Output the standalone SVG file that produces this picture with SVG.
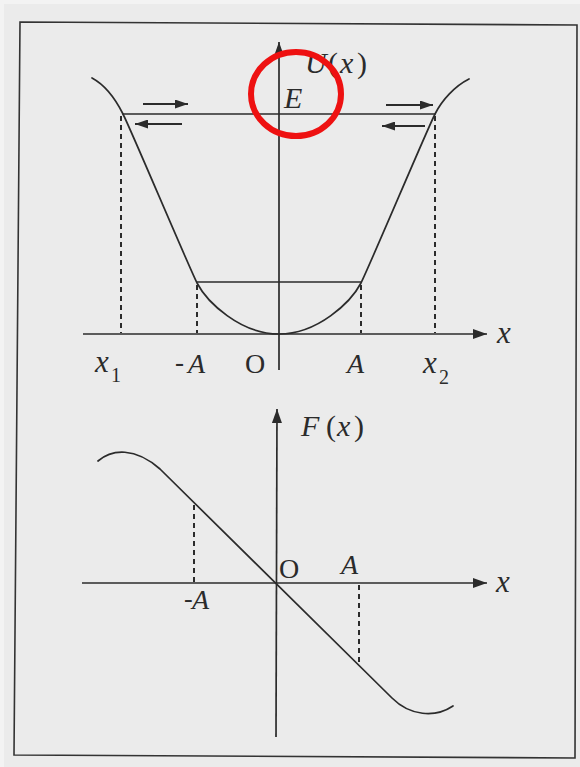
<svg xmlns="http://www.w3.org/2000/svg" width="580" height="767" viewBox="0 0 580 767">
<defs>
<style>
.ln{fill:none;stroke:#2b2b2b;stroke-width:1.7;stroke-linecap:round}
.ax{fill:none;stroke:#2b2b2b;stroke-width:1.7}
.ds{fill:none;stroke:#2b2b2b;stroke-width:2;stroke-dasharray:5,4}
.ar{fill:none;stroke:#2b2b2b;stroke-width:2}
text{font-family:"Liberation Serif","Times New Roman",serif;fill:#2b2b2b}
.it{font-style:italic}
</style>
<marker id="ah" viewBox="0 0 14 10" refX="14" refY="5" markerWidth="14" markerHeight="10" markerUnits="userSpaceOnUse" orient="auto">
<path d="M0,0 L14,5 L0,10 z" fill="#2b2b2b"/>
</marker>
<marker id="sa" viewBox="0 0 13 9" refX="13" refY="4.5" markerWidth="13" markerHeight="9" markerUnits="userSpaceOnUse" orient="auto">
<path d="M0,0 L13,4.5 L0,9 z" fill="#2b2b2b"/>
</marker>
</defs>
<rect x="0" y="0" width="580" height="767" fill="#f3f3f3"/>
<rect x="4" y="4" width="576" height="763" fill="#ebebeb"/>
<g id="frame">
<path d="M20,22 L577,25 L575,758 L14,755 Z" fill="none" stroke="#333" stroke-width="1.6"/>
</g>
<g id="upper-plot">
<g id="upper-axes">
<line class="ax" x1="83" y1="334" x2="487" y2="334" marker-end="url(#ah)"/>
<line class="ax" x1="279" y1="370" x2="279" y2="42" marker-end="url(#ah)"/>
</g>
<g id="potential-curve">
<path class="ln" d="M92,78 C105,85 116,100 123,114 C132,132 185,258 197,283 C207,302 240,334 279,334 C318,334 351,302 361,283 C373,258 426,132 435,114 C442,100 455,86 469,79"/>
</g>
<g id="energy-levels">
<line class="ln" x1="123" y1="114" x2="435" y2="114"/>
<line class="ln" x1="197" y1="282" x2="361" y2="282"/>
</g>
<g id="upper-dashes">
<line class="ds" x1="121" y1="116" x2="121" y2="333"/>
<line class="ds" x1="197" y1="285" x2="197" y2="333"/>
<line class="ds" x1="361" y1="285" x2="361" y2="333"/>
<line class="ds" x1="435" y1="116" x2="435" y2="333"/>
</g>
<g id="motion-arrows">
<line class="ar" x1="143" y1="104" x2="188" y2="104" marker-end="url(#sa)"/>
<line class="ar" x1="182" y1="124" x2="135" y2="124" marker-end="url(#sa)"/>
<line class="ar" x1="386" y1="105" x2="433" y2="105" marker-end="url(#sa)"/>
<line class="ar" x1="425" y1="126" x2="382" y2="126" marker-end="url(#sa)"/>
</g>
<g id="upper-labels">
<text x="305" y="73" font-size="30"><tspan class="it">U</tspan><tspan x="328">(</tspan><tspan class="it" x="340">x</tspan><tspan x="357">)</tspan></text>
<text class="it" x="284" y="108" font-size="30">E</text>
<text class="it" x="497" y="343" font-size="31">x</text>
<text x="95" y="372" font-size="31" class="it">x</text>
<text x="111" y="382" font-size="20">1</text>
<text x="175" y="371" font-size="27">-</text>
<text class="it" x="188" y="373" font-size="28">A</text>
<text x="245" y="373" font-size="28">O</text>
<text class="it" x="347" y="373" font-size="28">A</text>
<text x="423" y="373" font-size="31" class="it">x</text>
<text x="439" y="384" font-size="20">2</text>
</g>
</g>
<g id="lower-plot">
<g id="lower-axes">
<line class="ax" x1="82" y1="583" x2="487" y2="583" marker-end="url(#ah)"/>
<line class="ax" x1="276" y1="737" x2="277" y2="409" marker-end="url(#ah)"/>
</g>
<g id="force-curve">
<path class="ln" d="M98,461 C112,449 135,447 160,469 L392,698 C410,716 435,718 453,706"/>
</g>
<g id="lower-dashes">
<line class="ds" x1="194" y1="505" x2="194" y2="582"/>
<line class="ds" x1="359" y1="585" x2="359" y2="663"/>
</g>
<g id="lower-labels">
<text x="301" y="436" font-size="30"><tspan class="it">F</tspan><tspan x="326">(</tspan><tspan class="it" x="337">x</tspan><tspan x="354">)</tspan></text>
<text x="279" y="578" font-size="28">O</text>
<text class="it" x="341" y="574" font-size="28">A</text>
<text x="184" y="607" font-size="26">-</text>
<text class="it" x="192" y="609" font-size="28">A</text>
<text class="it" x="496" y="592" font-size="31">x</text>
</g>
</g>
<g id="highlight">
<ellipse cx="296" cy="94" rx="45" ry="42" fill="none" stroke="#ee1111" stroke-width="6"/>
</g>
</svg>
